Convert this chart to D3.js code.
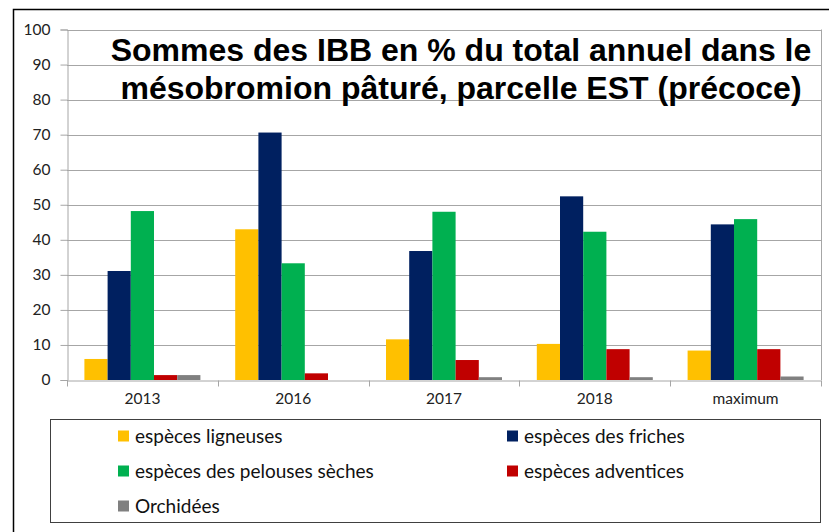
<!DOCTYPE html>
<html>
<head>
<meta charset="utf-8">
<script src="https://cdn.jsdelivr.net/npm/d3@7"></script>
<style>
  body { margin: 0; background: #fff; }
  svg { display: block; }
</style>
</head>
<body>
<svg id="chart" width="829" height="532"></svg>
<script>
// data
let categories = ["2013", "2016", "2017", "2018", "maximum"]
let seriesNames = ["espèces ligneuses", "espèces des friches", "espèces des pelouses sèches", "espèces adventices", "Orchidées"]
let ligneuses = [6.0, 43.0, 11.6, 10.3, 8.4]
let friches = [31.1, 70.6, 36.8, 52.4, 44.4]
let pelouses = [48.2, 33.3, 48.0, 42.3, 45.9]
let adventices = [1.4, 1.9, 5.7, 8.8, 8.8]
let orchidees = [1.4, 0, 0.8, 0.8, 1.0]
let colors = ["#FFC000", "#002060", "#00B050", "#C00000", "#808080"]
let yTicks = [0, 10, 20, 30, 40, 50, 60, 70, 80, 90, 100]
let titleLines = ["Sommes des IBB en % du total annuel dans le", "mésobromion pâturé, parcelle EST (précoce)"]

let allSeries = [ligneuses, friches, pelouses, adventices, orchidees]

let svg = d3.select("#chart")
let plotLeft = 67, plotRight = 821, plotTop = 29.5, plotBottom = 380

// outer frame of the chart
svg.append("rect")
  .attr("x", 13.5).attr("y", 9.5)
  .attr("width", 840).attr("height", 540)
  .attr("fill", "none").attr("stroke", "#000").attr("stroke-width", 1.5)

let xScale = d3.scaleBand().domain(categories).range([plotLeft, plotRight])
let xInner = d3.scaleBand().domain(d3.range(5)).range([0, xScale.bandwidth()])
  .paddingOuter(0.75)
let yScale = d3.scaleLinear().domain([0, 100]).range([plotBottom, plotTop])

// gridlines
svg.append("g").selectAll("line")
  .data(yTicks.filter(d => d > 0))
  .enter().append("line")
  .attr("x1", plotLeft).attr("x2", plotRight)
  .attr("y1", d => Math.round(yScale(d)) + 0.5)
  .attr("y2", d => Math.round(yScale(d)) + 0.5)
  .attr("stroke", "#A6A6A6").attr("stroke-width", 1)

// right border of plot
svg.append("line")
  .attr("x1", plotRight + 0.5).attr("x2", plotRight + 0.5)
  .attr("y1", plotTop).attr("y2", plotBottom)
  .attr("stroke", "#A6A6A6")

// bars
let groups = svg.append("g").selectAll("g")
  .data(allSeries)
  .enter().append("g")
  .attr("fill", (d, i) => colors[i])

groups.selectAll("rect")
  .data((s, i) => s.map((v, j) => ({ v: v, cat: categories[j], k: i })))
  .enter().append("rect")
  .attr("x", d => xScale(d.cat) + xInner(d.k))
  .attr("width", xInner.bandwidth())
  .attr("y", d => yScale(d.v))
  .attr("height", d => plotBottom - yScale(d.v))

// y axis
let yAxis = d3.axisLeft(yScale).tickValues(yTicks).tickSize(7).tickPadding(10)
let yAxisGroup = svg.append("g")
  .attr("transform", `translate(${plotLeft + 0.5},0)`)
  .call(yAxis)
yAxisGroup.select(".domain").attr("stroke", "#A6A6A6")
yAxisGroup.selectAll(".tick line").attr("stroke", "#A6A6A6")
yAxisGroup.selectAll(".tick text")
  .attr("font-family", "Lato, sans-serif").attr("font-size", 15.5).attr("fill", "#222")

// x axis
let xAxis = d3.axisBottom(xScale).tickSize(0).tickPadding(12)
let xAxisGroup = svg.append("g")
  .attr("transform", `translate(0,${plotBottom + 0.5})`)
  .call(xAxis)
xAxisGroup.select(".domain").attr("stroke", "#A6A6A6")
xAxisGroup.selectAll(".tick text")
  .attr("font-family", "Lato, sans-serif").attr("font-size", 15.5).attr("fill", "#222")
xAxisGroup.selectAll(".sep")
  .data(d3.range(categories.length + 1))
  .enter().append("line")
  .attr("class", "sep")
  .attr("x1", i => Math.round(plotLeft + i * xScale.step()) + 0.5)
  .attr("x2", i => Math.round(plotLeft + i * xScale.step()) + 0.5)
  .attr("y1", 0).attr("y2", 6)
  .attr("stroke", "#A6A6A6")

// title
svg.append("text")
  .attr("x", 461).attr("y", 61)
  .attr("text-anchor", "middle")
  .attr("font-family", "'Liberation Sans', Arial, sans-serif")
  .attr("font-weight", "bold").attr("font-size", 32)
  .selectAll("tspan")
  .data(titleLines)
  .enter().append("tspan")
  .attr("x", 461)
  .attr("dy", (d, i) => i == 0 ? 0 : 38)
  .text(d => d)

// legend
svg.append("rect")
  .attr("x", 50.5).attr("y", 419.5)
  .attr("width", 770).attr("height", 103)
  .attr("fill", "none").attr("stroke", "#404040").attr("stroke-width", 1)

let legendPos = [[118, 436], [507, 436], [118, 471], [507, 471], [118, 506]]
let legendItems = svg.append("g").selectAll("g")
  .data(seriesNames)
  .enter().append("g")
  .attr("transform", (d, i) => `translate(${legendPos[i][0]},${legendPos[i][1]})`)

legendItems.append("rect")
  .attr("x", 0).attr("y", -5.5)
  .attr("width", 11).attr("height", 11)
  .attr("fill", (d, i) => colors[i])

legendItems.append("text")
  .attr("x", 17).attr("y", 6.5)
  .attr("font-family", "Lato, sans-serif").attr("font-size", 19).attr("fill", "#111")
  .text(d => d)
</script>
</body>
</html>
